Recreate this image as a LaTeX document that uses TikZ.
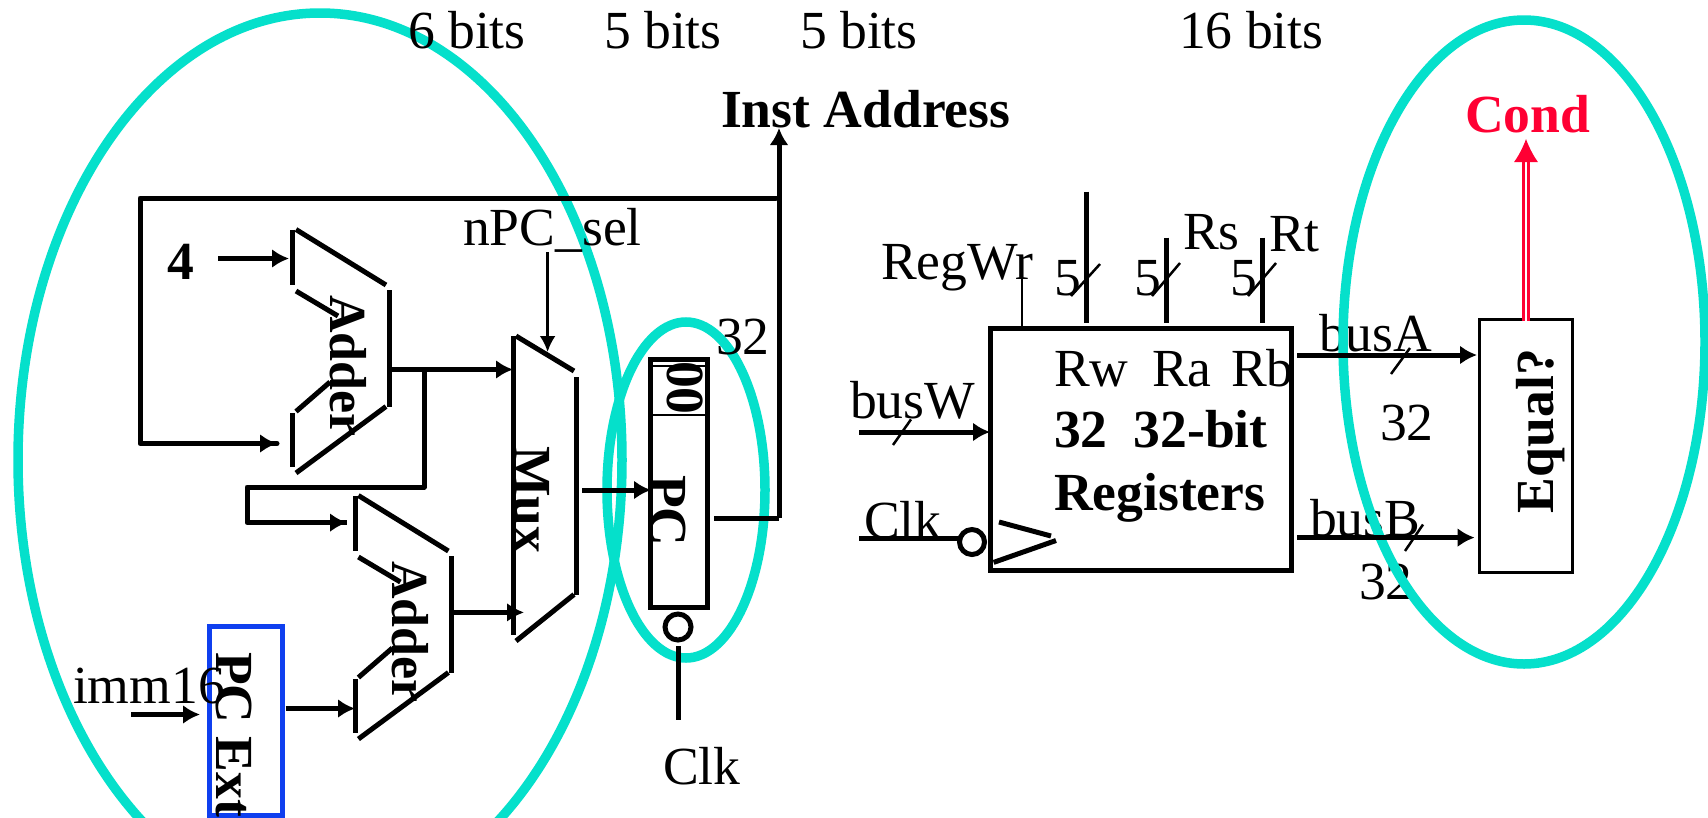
\documentclass[tikz,border=0pt]{standalone}
\usepackage{fontspec}
\setmainfont{Liberation Serif}
\usetikzlibrary{arrows.meta}
\definecolor{teal1}{HTML}{05E0CB}
\definecolor{red1}{HTML}{FF0033}
\definecolor{blue1}{HTML}{0F3FEF}
\tikzset{
  lab/.style={font=\fontsize{53.6}{56}\selectfont,inner sep=0pt,outer sep=0pt,anchor=base west},
  blab/.style={font=\fontsize{53.6}{56}\selectfont\bfseries,inner sep=0pt,outer sep=0pt,anchor=base west},
  ring/.style={draw=teal1,line width=9.5pt},
  wire/.style={draw=black,line width=5pt},
  thin1/.style={draw=black,line width=2.5pt},
  arr/.style={wire,-{Latex[length=17pt,width=19pt]}},
  tharr/.style={draw=black,line width=2.8pt,-{Latex[length=16pt,width=16pt]}},
  adderpart/.style={draw=black,line width=5pt},
  boxnode/.style={inner sep=0pt,outer sep=0pt,anchor=north west},
}
\newcommand{\addershape}[2]{%
  \begin{scope}[shift={(#1,#2)}]
    \draw[adderpart] (0,0) -- (0,55.5);
    \draw[adderpart] (3.4,0) -- (93.4,55.5);
    \draw[adderpart] (96.4,60.5) -- (96.4,177);
    \draw[adderpart] (93.4,177) -- (3.4,243.5);
    \draw[adderpart] (0,183.5) -- (0,237.5);
    \draw[adderpart] (3.4,61.5) -- (45.4,86.5);
    \draw[adderpart] (3.4,182) -- (37.4,152.5);
  \end{scope}}
\begin{document}
\begin{tikzpicture}[x=1pt,y=-1pt]
\clip (0,0) rectangle (1708,817);
\fill[white] (0,0) rectangle (1708,817);

% rings
\draw[ring] (320,460) ellipse [x radius=302,y radius=447];
\draw[ring] (686,490) ellipse [x radius=79,y radius=168];

% coordinates
\coordinate (fbA) at (140,198);
\coordinate (fbB) at (776,198);
\coordinate (fbC) at (140,443.5);
\coordinate (add1B) at (277,443.5);
\coordinate (fourS) at (218,258.5);
\coordinate (add1A) at (289,258.5);
\coordinate (add1O) at (391.5,369.5);
\coordinate (muxA) at (513,369.5);
\coordinate (br0) at (424,369.5);
\coordinate (br1) at (424,487);
\coordinate (br2) at (247,487);
\coordinate (br3) at (247,522.6);
\coordinate (add2A) at (347,522.6);
\coordinate (add2O) at (453.5,612.4);
\coordinate (muxB) at (524,612.4);
\coordinate (extO) at (285.5,708.5);
\coordinate (add2B) at (355,708.5);
\coordinate (immS) at (131,714.5);
\coordinate (immE) at (200,714.5);
\coordinate (selS) at (547.6,252);
\coordinate (selE) at (547.6,352);
\coordinate (muxO) at (582,490);
\coordinate (pcI) at (651,490);
\coordinate (pcO) at (714,518);
\coordinate (pcC) at (779,518);
\coordinate (instT) at (779,128);
\coordinate (clkT) at (678,646);
\coordinate (clkB) at (678,720);

% adders
\addershape{292.6}{229.5}
\addershape{355}{495.5}

% mux
\draw[wire] (513,336) -- (513,635);
\draw[wire] (516,336) -- (574,371);
\draw[wire] (576.5,377) -- (576.5,594.5);
\draw[wire] (574,594.5) -- (516,641);

% PC register
\node[draw=black,line width=5pt,minimum width=56.5pt,minimum height=248pt,boxnode] (pc) at (650.5,359.5) {};
\draw[black,line width=2pt] (650,366) -- (706,366);
\draw[black,line width=2pt] (650,415) -- (706,415);
\node[draw=black,line width=5pt,circle,minimum size=26pt,inner sep=0pt,outer sep=0pt] (pcb) at (678,627) {};

% feedback and PC wires
\draw[wire,line cap=round,line join=round] (fbB) -- (fbA) -- (fbC) -- (add1B);
\draw[arr] (fbC) -- (add1B);
\draw[arr] (fourS) -- (add1A);
\draw[arr] (add1O) -- (muxA);
\draw[wire,line join=round] (br0) -- (br1) -- (br2) -- (br3) -- (add2A);
\draw[arr] (br3) -- (add2A);
\draw[arr] (add2O) -- (muxB);
\draw[arr] (extO) -- (add2B);
\draw[arr] (immS) -- (immE);
\draw[tharr] (selS) -- (selE);
\draw[arr] (muxO) -- (pcI);
\draw[wire,line join=round] (pcO) -- (pcC);
\draw[arr] (pcC) -- (instT);
\draw[wire] (clkT) -- (clkB);

% PC Ext
\node[draw=blue1,line width=5pt,minimum width=73pt,minimum height=189pt,boxnode] (ext) at (209.5,626) {};

% rotated labels
\node[blab,font=\fontsize{52}{56}\selectfont\bfseries,rotate=-90] (adl1) at (330,295) {Adder};
\node[blab,font=\fontsize{52}{56}\selectfont\bfseries,rotate=-90] (adl2) at (392.5,561) {Adder};
\node[blab,rotate=-90] (muxl) at (514,446) {Mux};
\node[blab,rotate=-90] (pcl) at (650,475) {PC};
\node[blab,rotate=-90] (zero) at (667,361) {00};
\node[blab,rotate=-90] (extl) at (216,652) {PC Ext};

% left labels
\node[blab] (four) at (167,279) {4};
\node[lab] (imm) at (73,703) {imm16};
\node[lab] (sel) at (463,245) {nPC\_sel};
\node[lab] (n32a) at (716,354) {32};
\node[lab] (clkl) at (663,784) {Clk};
\node[blab] (inst) at (721,127) {Inst Address};
\node[lab] (b6) at (408,48) {6 bits};
\node[lab] (b5a) at (604,48) {5 bits};
\node[lab] (b5b) at (800,48) {5 bits};
\node[lab] (b16) at (1179,48) {16 bits};

% register file
\node[draw=black,line width=5pt,minimum width=301pt,minimum height=242pt,boxnode] (regs) at (990.5,328) {};
\coordinate (rwT) at (1022,278);
\coordinate (rwB) at (1022,326);
\draw[thin1] (rwT) -- (rwB);
\coordinate (r1T) at (1086,191.5);
\coordinate (r1B) at (1086,323);
\coordinate (r2T) at (1166,237.6);
\coordinate (r2B) at (1166,323);
\coordinate (r3T) at (1262,237.6);
\coordinate (r3B) at (1262,323);
\draw[wire] (r1T) -- (r1B);
\draw[wire] (r2T) -- (r2B);
\draw[wire] (r3T) -- (r3B);
\coordinate (s1a) at (1071,296); \coordinate (s1b) at (1100,264);
\coordinate (s2a) at (1152,296); \coordinate (s2b) at (1180,263);
\coordinate (s3a) at (1248,296); \coordinate (s3b) at (1276,263);
\draw[thin1] (s1a) -- (s1b);
\draw[thin1] (s2a) -- (s2b);
\draw[thin1] (s3a) -- (s3b);
\node[lab] (five1) at (1054,295.5) {5};
\node[lab] (five2) at (1134,295.5) {5};
\node[lab] (five3) at (1230,295.5) {5};
\node[lab] (regwr) at (881,279) {RegWr};
\node[lab] (rs) at (1183,249.5) {Rs};
\node[lab] (rt) at (1269,251) {Rt};
\node[lab] (rw) at (1054,386) {Rw};
\node[lab] (ra) at (1152,386) {Ra};
\node[lab] (rb) at (1231,386) {Rb};
\node[blab] (l32) at (1054,447) {32\hspace{26pt}32-bit};
\node[blab] (lreg) at (1054,510) {Registers};

\coordinate (bwS) at (859,432);
\coordinate (bwE) at (990,432);
\draw[arr] (bwS) -- (bwE);
\coordinate (swa) at (893,445); \coordinate (swb) at (911,419.4);
\draw[thin1] (swa) -- (swb);
\node[lab] (busw) at (850,418) {busW};
\node[lab] (clkr) at (864,538) {Clk};
\node[draw=black,line width=5pt,circle,minimum size=25pt,inner sep=0pt,outer sep=0pt] (clkb) at (972,542) {};
\coordinate (clkS) at (859,538);
\coordinate (clkE) at (960,538);
\draw[wire] (clkS) -- (clkE);
\coordinate (t1) at (999,522); \coordinate (t2) at (1051,536);
\coordinate (t3) at (1056,540.5); \coordinate (t4) at (993.6,562.4);
\draw[wire] (t1) -- (t2);
\draw[wire] (t3) -- (t4);

% right side: labels lie under the ring, wires over it
\node[lab] (busa) at (1319,351) {busA};
\node[lab] (busb) at (1310,536.5) {busB};
\node[lab] (n32b) at (1380,440) {32};
\node[lab] (n32c) at (1359,599) {32};
\draw[ring] (1524,342) ellipse [x radius=181,y radius=322];
\node[draw=black,line width=2.5pt,minimum width=93pt,minimum height=253pt,boxnode] (eq) at (1479.5,319.5) {};
\coordinate (baS) at (1297,355);
\coordinate (baE) at (1477,355);
\coordinate (bbS) at (1297,537.6);
\coordinate (bbE) at (1474.6,537.6);
\draw[arr] (baS) -- (baE);
\draw[arr] (bbS) -- (bbE);
\coordinate (saa) at (1391,374); \coordinate (sab) at (1410,348);
\coordinate (sba) at (1405,551); \coordinate (sbb) at (1423,524.5);
\draw[thin1] (saa) -- (sab);
\draw[thin1] (sba) -- (sbb);
\node[blab,rotate=90] (eql) at (1553,513) {Equal?};
\coordinate (cA) at (1526,321);
\coordinate (cB) at (1526,160);
\coordinate (cT) at (1526,139);
\draw[red1,line width=2.5pt,double=white,double distance=2.5pt] (cA) -- (cB);
\draw[red1,line width=1pt,-{Latex[length=23pt,width=24pt]}] (cB) -- (cT);
\node[blab,text=red1] (cond) at (1465,132) {Cond};
\end{tikzpicture}
\end{document}
